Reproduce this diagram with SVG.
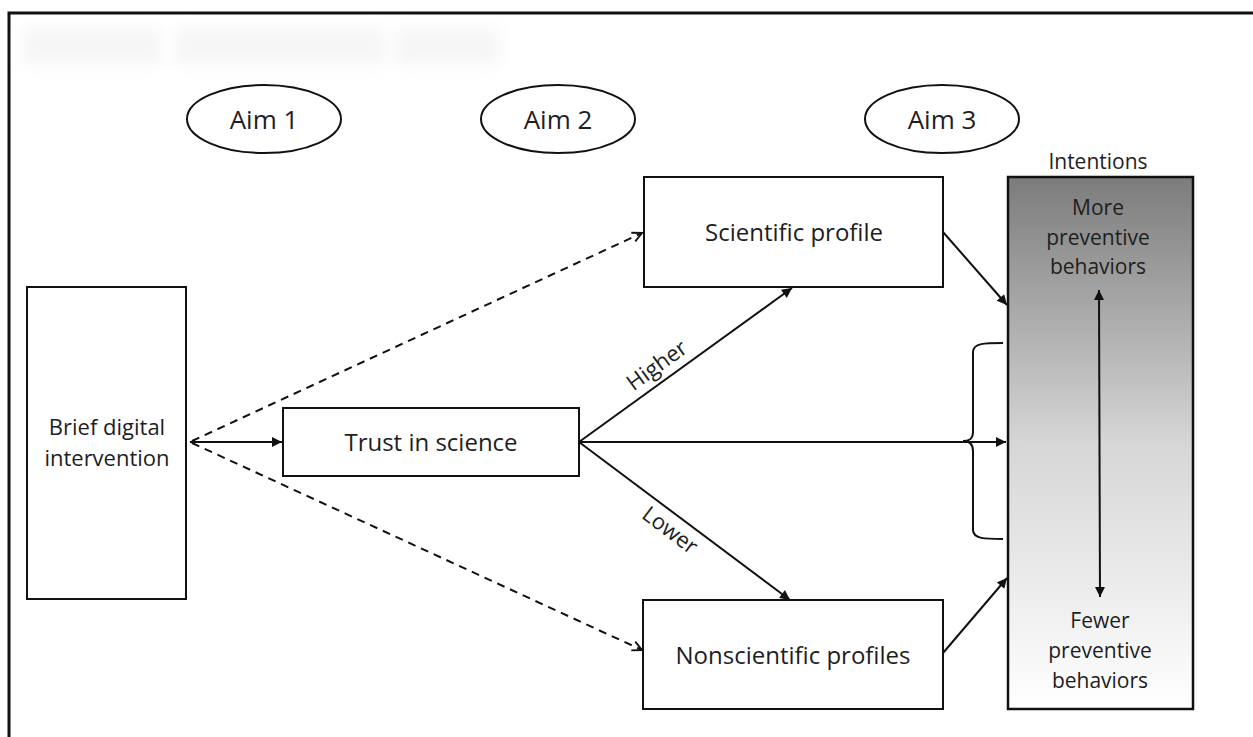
<svg xmlns="http://www.w3.org/2000/svg" width="1253" height="737" viewBox="0 0 1253 737">
<style>
text{font-family:"Open Sans","Liberation Sans",sans-serif;fill:#1e1e1e;text-anchor:middle}
.box{fill:#fff;stroke:#111;stroke-width:2}
.ell{fill:#fff;stroke:#111;stroke-width:2}
.ln{fill:none;stroke:#111;stroke-width:2}
.dash{fill:none;stroke:#111;stroke-width:2;stroke-dasharray:8,6}
</style>
<defs>
<marker id="ah" viewBox="0 0 10 10" refX="9" refY="5" markerWidth="6" markerHeight="6" orient="auto-start-reverse" markerUnits="userSpaceOnUse">
<path d="M0,0 L10,5 L0,10 z" fill="#111"/>
</marker>
<marker id="ahs" viewBox="0 0 10 10" refX="10" refY="5" markerWidth="12" markerHeight="10" orient="auto-start-reverse" markerUnits="userSpaceOnUse">
<path d="M0,0 L10,5 L0,10 z" fill="#111"/>
</marker>
<marker id="open" viewBox="0 0 10 10" refX="9" refY="5" markerWidth="12" markerHeight="12" orient="auto" markerUnits="userSpaceOnUse">
<path d="M1,1 L9,5 L1,9" fill="none" stroke="#111" stroke-width="1.6"/>
</marker>
<linearGradient id="grad" x1="0" y1="0" x2="0" y2="1">
<stop offset="0" stop-color="#7c7c7c"/>
<stop offset="0.5" stop-color="#d6d6d6"/>
<stop offset="1" stop-color="#ffffff"/>
</linearGradient>
<filter id="blur" x="-10%" y="-60%" width="120%" height="220%"><feGaussianBlur stdDeviation="7"/></filter>
</defs>
<rect width="1253" height="737" fill="#fff"/>
<path d="M9,737 L9,13 L1253,13" fill="none" stroke="#111" stroke-width="3"/>
<g id="blurred" filter="url(#blur)" fill="#ececec" opacity="0.45">
<rect x="22" y="28" width="140" height="38"/>
<rect x="175" y="28" width="210" height="38"/>
<rect x="395" y="28" width="105" height="38"/>
</g>

<g id="aim1"><ellipse class="ell" cx="264" cy="119" rx="77" ry="34"/><text x="264" y="129" font-size="26">Aim 1</text></g>
<g id="aim2"><ellipse class="ell" cx="558" cy="119" rx="77" ry="34"/><text x="558" y="129" font-size="26">Aim 2</text></g>
<g id="aim3"><ellipse class="ell" cx="942" cy="119" rx="77" ry="34"/><text x="942" y="129" font-size="26">Aim 3</text></g>

<g id="intervention"><rect class="box" x="27" y="287" width="159" height="312"/>
<text x="107" y="435" font-size="22">Brief digital</text>
<text x="107" y="466" font-size="22">intervention</text></g>

<g id="trust"><rect class="box" x="283" y="408" width="296" height="68"/>
<text x="431" y="451" font-size="24">Trust in science</text></g>

<g id="scientific"><rect class="box" x="644" y="177" width="299" height="110"/>
<text x="794" y="241" font-size="24">Scientific profile</text></g>

<g id="nonscientific"><rect class="box" x="643" y="600" width="300" height="109"/>
<text x="793" y="664" font-size="24">Nonscientific profiles</text></g>

<g id="intentions">
<text x="1098" y="169" font-size="21">Intentions</text>
<rect x="1008" y="177" width="185" height="532" fill="url(#grad)" stroke="#111" stroke-width="2.5"/>
<text x="1098" y="215" font-size="21">More</text>
<text x="1098" y="245" font-size="21">preventive</text>
<text x="1098" y="274" font-size="21">behaviors</text>
<text x="1100" y="628" font-size="21">Fewer</text>
<text x="1100" y="658" font-size="21">preventive</text>
<text x="1100" y="688" font-size="21">behaviors</text>
<line class="ln" x1="1099" y1="290" x2="1100" y2="597" marker-start="url(#ahs)" marker-end="url(#ahs)"/>
</g>

<g id="connectors">
<line class="dash" x1="192" y1="441" x2="642" y2="233" marker-end="url(#open)"/>
<line class="dash" x1="192" y1="443" x2="642" y2="650" marker-end="url(#open)"/>
<line class="ln" x1="190" y1="442" x2="282" y2="442" marker-start="url(#ah)" marker-end="url(#ahs)"/>
<line class="ln" x1="579" y1="442" x2="792" y2="288" marker-end="url(#ahs)"/>
<line class="ln" x1="579" y1="442" x2="790" y2="600" marker-end="url(#ahs)"/>
<line class="ln" x1="579" y1="442" x2="1006" y2="442" marker-end="url(#ahs)"/>
<line class="ln" x1="943" y1="232" x2="1007" y2="305" marker-end="url(#ahs)"/>
<line class="ln" x1="943" y1="653" x2="1007" y2="578" marker-end="url(#ahs)"/>
<path class="ln" d="M1003,343 C985,343 973,343 973,352 L973,432 C973,440 968,441 963,441 C968,441 973,443 973,451 L973,530 C973,539 985,539 1003,539"/>
<text font-size="22" transform="translate(656,364) rotate(-36)" dominant-baseline="central">Higher</text>
<text font-size="22" transform="translate(671,529) rotate(37)" dominant-baseline="central">Lower</text>
</g>
</svg>
